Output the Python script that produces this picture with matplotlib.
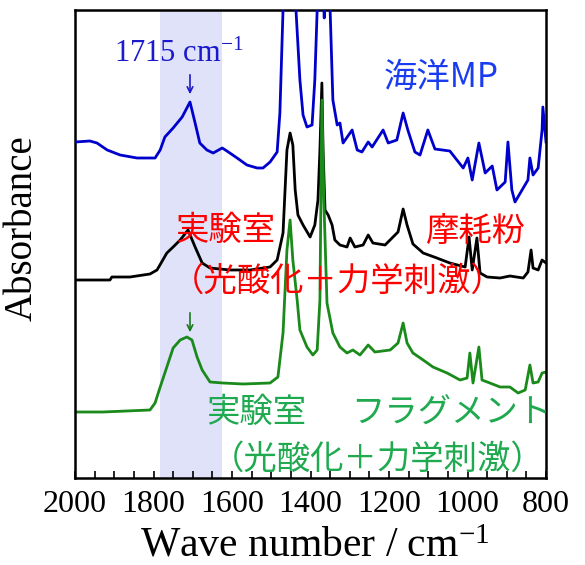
import numpy as np
import matplotlib
matplotlib.use("Agg")
from matplotlib import pyplot as plt

# IR spectra (wavenumber in cm-1, absorbance in arbitrary offset units)
sea_wn = [2000, 1962, 1944, 1918, 1885, 1842, 1796, 1783, 1771, 1750, 1727, 1707, 1694,
          1682, 1664, 1648, 1625, 1613, 1587, 1562, 1536, 1521, 1503, 1485, 1478, 1470,
          1465, 1455, 1437, 1427, 1419, 1409, 1396, 1389, 1383, 1375, 1365, 1358, 1350,
          1343, 1332, 1325, 1317, 1294, 1281, 1269, 1253, 1243, 1215, 1202, 1180, 1164,
          1152, 1134, 1121, 1101, 1083, 1045, 1011, 999, 988, 971, 955, 937, 925, 904,
          897, 887, 879, 858, 846, 841, 833, 820, 810, 808, 800]
sea_abs = [3.36, 3.37, 3.35, 3.28, 3.23, 3.20, 3.20, 3.28, 3.41, 3.50, 3.61, 3.76, 3.55,
           3.35, 3.28, 3.25, 3.30, 3.27, 3.20, 3.13, 3.10, 3.10, 3.16, 3.26, 3.65, 4.68,
           5.50, 5.50, 4.68, 3.98, 3.63, 3.51, 3.53, 3.98, 4.68, 5.50, 4.60, 5.50, 4.68,
           3.78, 3.53, 3.55, 3.35, 3.48, 3.28, 3.26, 3.36, 3.31, 3.48, 3.35, 3.38, 3.65,
           3.48, 3.26, 3.23, 3.48, 3.29, 3.27, 3.10, 3.20, 2.98, 3.35, 3.05, 3.12, 2.88, 2.96,
           3.36, 2.88, 2.76, 2.90, 2.98, 3.20, 3.03, 3.10, 3.48, 3.71, 3.36]

lab_wn = [2000, 1911, 1906, 1860, 1809, 1791, 1766, 1750, 1732, 1712, 1694, 1676, 1656,
          1605, 1554, 1503, 1485, 1470, 1460, 1452, 1445, 1439, 1432, 1419, 1401, 1389,
          1381, 1376, 1371, 1368, 1363, 1355, 1345, 1338, 1325, 1307, 1299, 1287, 1266,
          1253, 1241, 1210, 1177, 1164, 1154, 1139, 1113, 1078, 1045, 1006, 996, 988,
          976, 968, 950, 917, 892, 858, 846, 838, 833, 820, 810, 800]
lab_abs = [1.98, 1.98, 2.01, 2.01, 2.04, 2.08, 2.25, 2.31, 2.38, 2.48, 2.31, 2.15, 2.10,
           2.08, 2.08, 2.11, 2.18, 2.45, 3.28, 3.45, 3.33, 2.88, 2.63, 2.53, 2.41, 2.53,
           2.78, 3.28, 3.95, 3.28, 2.68, 2.63, 2.53, 2.38, 2.33, 2.31, 2.40, 2.31, 2.33,
           2.43, 2.35, 2.33, 2.46, 2.69, 2.53, 2.34, 2.25, 2.20, 2.15, 2.11, 2.41, 2.08,
           2.40, 2.05, 2.01, 2.00, 2.02, 2.00, 2.06, 2.28, 2.10, 2.08, 2.18, 2.15]

frag_wn = [2000, 1929, 1809, 1796, 1783, 1766, 1750, 1732, 1715, 1702, 1689, 1676, 1656,
           1623, 1572, 1503, 1483, 1470, 1460, 1452, 1445, 1434, 1427, 1409, 1394, 1383,
           1376, 1371, 1366, 1358, 1343, 1325, 1307, 1292, 1274, 1253, 1236, 1197, 1177,
           1164, 1154, 1139, 1113, 1088, 1052, 1019, 1001, 994, 986, 971, 963, 943, 917,
           892, 871, 853, 841, 833, 820, 810, 800]
frag_abs = [0.66, 0.66, 0.68, 0.75, 0.91, 1.11, 1.30, 1.38, 1.41, 1.38, 1.21, 1.08, 0.96,
            0.95, 0.94, 0.95, 1.01, 1.45, 2.28, 2.58, 2.18, 1.78, 1.48, 1.31, 1.23, 1.28,
            1.78, 3.78, 2.78, 1.75, 1.45, 1.31, 1.25, 1.28, 1.23, 1.33, 1.26, 1.28, 1.35,
            1.55, 1.35, 1.25, 1.18, 1.11, 1.05, 0.98, 1.00, 1.25, 0.95, 1.31, 0.98, 0.95, 0.91,
            0.91, 0.85, 0.88, 1.13, 0.95, 0.96, 1.05, 1.06]

band_wn = [1784, 1625]
xticks = [2000, 1800, 1600, 1400, 1200, 1000, 800]

plt.rcParams["mathtext.fontset"] = "custom"
plt.rcParams["mathtext.rm"] = "Liberation Serif"
plt.rcParams["mathtext.it"] = "Liberation Serif:italic"

serif = "Liberation Serif"
cjk = ["Noto Sans CJK JP", "DejaVu Sans"]

fig = plt.figure(figsize=(5.85, 5.65), dpi=100)
ax = fig.add_axes([75 / 585, 87 / 565, 471 / 585, 468 / 565])

ax.axvspan(band_wn[0], band_wn[1], color="#dfe2f9", lw=0, zorder=0)
ax.plot(sea_wn, sea_abs, color="#0000cc", lw=2.0, zorder=3)
ax.plot(lab_wn, lab_abs, color="black", lw=2.0, zorder=2)
ax.plot(frag_wn, frag_abs, color="#1a8a1a", lw=2.0, zorder=2)

ax.set_xlim(2000, 800)
ax.set_ylim(0, 4.68)
ax.set_xticks(xticks)
ax.set_xticks(np.arange(800, 2001, 50), minor=True)
ax.set_yticks([])
ax.tick_params(axis="x", which="both", direction="in", length=5, width=1.2,
               labelsize=23, pad=9)
for lab in ax.get_xticklabels():
    lab.set_fontfamily(serif)
for sp in ax.spines.values():
    sp.set_linewidth(1.8)

ax.set_xlabel("Wave number / cm$^{-1}$", fontsize=30, family=serif)
ax.xaxis.set_label_coords(0.51, -0.105)
ax.set_ylabel("Absorbance", fontsize=28, family=serif)
ax.yaxis.set_label_coords(-0.074, 0.534)

# peak annotation
ax.text(1735, 4.16, "1715 cm$^{-1}$", color="#1a1acc", fontsize=22, family=serif,
        ha="center", va="baseline")
ax.annotate("", xy=(1707, 3.81), xytext=(1707, 4.06),
            arrowprops=dict(arrowstyle="->", color="#1a1acc", lw=1.2))
ax.annotate("", xy=(1707, 1.43), xytext=(1707, 1.68),
            arrowprops=dict(arrowstyle="->", color="#1a7a1a", lw=1.2))

# sample labels
ax.text(1067, 4.01, "海洋MP", color="#1a3cf0", fontsize=24, family=cjk,
        ha="center", va="center")
ax.text(1618, 2.48, "実験室", color="#ff0000", fontsize=24, family=cjk,
        ha="center", va="center")
ax.text(978, 2.47, "摩耗粉", color="#ff0000", fontsize=24, family=cjk,
        ha="center", va="center")
ax.text(1330, 1.97, "（光酸化＋力学刺激）", color="#ff0000", fontsize=24, family=cjk,
        ha="center", va="center")
ax.text(1539, 0.66, "実験室", color="#1faa50", fontsize=24, family=cjk,
        ha="center", va="center")
ax.text(1042, 0.66, "フラグメント", color="#1faa50", fontsize=24, family=cjk,
        ha="center", va="center", clip_on=False)
ax.text(1228, 0.19, "（光酸化＋力学刺激）", color="#1faa50", fontsize=24, family=cjk,
        ha="center", va="center")

plt.savefig("out.png", dpi=100)
